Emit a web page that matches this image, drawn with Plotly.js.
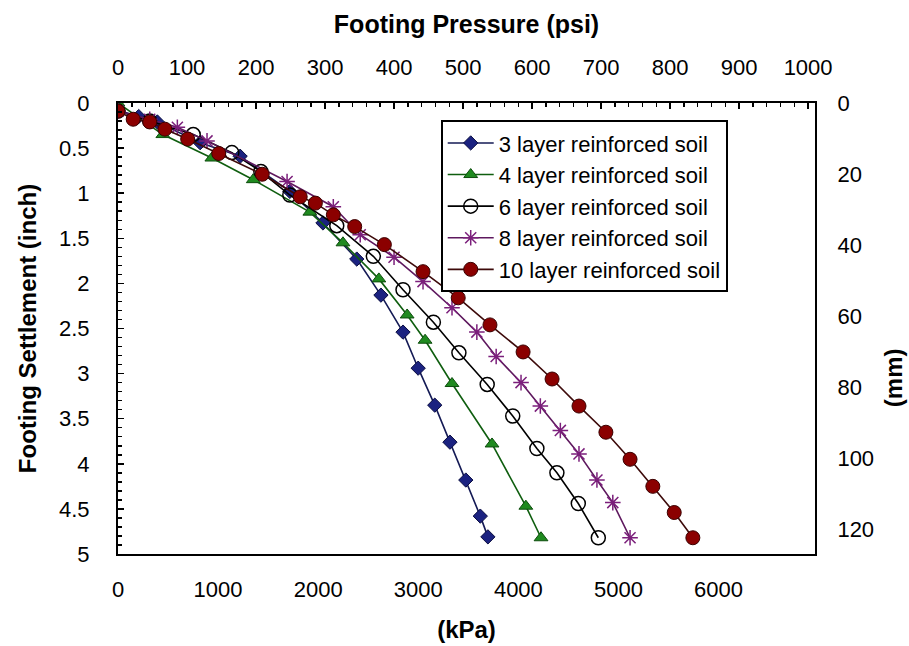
<!DOCTYPE html>
<html>
<head>
<meta charset="utf-8">
<script src="https://cdn.plot.ly/plotly-3.0.1.min.js"></script>
<style>html,body{margin:0;padding:0;background:#fff;}#chart{width:909px;height:646px;}</style>
</head>
<body>
<div id="chart"></div>
<script>
// Footing pressure (psi) and footing settlement (inch)
const seriesNames = ["3 layer reinforced soil","4 layer reinforced soil","6 layer reinforced soil","8 layer reinforced soil","10 layer reinforced soil"];

const psi3 = [0, 30, 57, 119, 177, 249, 297, 346, 381, 413, 435, 459, 481, 504, 525, 536];
const in3  = [0.08, 0.15, 0.21, 0.44, 0.59, 0.98, 1.33, 1.73, 2.13, 2.54, 2.94, 3.35, 3.76, 4.18, 4.58, 4.81];

const psi4 = [0, 65, 136, 196, 278, 326, 378, 419, 445, 484, 542, 591, 613];
const in4  = [0.0, 0.35, 0.61, 0.85, 1.21, 1.55, 1.95, 2.35, 2.63, 3.11, 3.78, 4.47, 4.82];

const psi6 = [0, 46, 109, 165, 207, 249, 317, 370, 413, 457, 494, 535, 572, 607, 636, 667, 696];
const in6  = [0.09, 0.20, 0.35, 0.55, 0.76, 1.02, 1.36, 1.70, 2.07, 2.43, 2.77, 3.12, 3.47, 3.83, 4.10, 4.44, 4.82];

const psi8 = [0, 46, 86, 129, 245, 312, 351, 400, 442, 484, 520, 548, 584, 612, 641, 668, 694, 717, 742];
const in8  = [0.09, 0.18, 0.27, 0.42, 0.87, 1.15, 1.46, 1.71, 1.98, 2.27, 2.54, 2.81, 3.10, 3.36, 3.63, 3.89, 4.18, 4.43, 4.82];

const psi10 = [0, 22, 46, 68, 101, 146, 209, 264, 286, 312, 343, 386, 442, 493, 539, 587, 629, 668, 707, 742, 775, 806, 833];
const in10  = [0.09, 0.18, 0.21, 0.29, 0.40, 0.56, 0.79, 1.04, 1.11, 1.24, 1.37, 1.57, 1.87, 2.16, 2.46, 2.76, 3.06, 3.36, 3.65, 3.95, 4.25, 4.54, 4.82];

const xTopTicks = [0,100,200,300,400,500,600,700,800,900,1000];
const xBotTicks = [0,1000,2000,3000,4000,5000,6000];
const yLeftTicks = [0,0.5,1,1.5,2,2.5,3,3.5,4,4.5,5];
const yRightTicks = [0,20,40,60,80,100,120];

const PSI_TO_KPA = 6.894757;
const IN_TO_MM = 25.4;
const psiMax = 1010;
const inMax = 5;

const FONT = "'Liberation Sans', Arial, Helvetica, sans-serif";

function tr(i, x, y, marker, lineColor) {
  return {
    type: 'scatter', mode: 'lines+markers', name: seriesNames[i],
    x: x, y: y, xaxis: 'x2', yaxis: 'y',
    line: {color: lineColor, width: 1.6},
    marker: marker
  };
}

const data = [
  tr(0, psi3, in3, {symbol: 'diamond', size: 11, color: '#1b2280', line: {color: '#0a0d40', width: 1}}, '#141a55'),
  tr(1, psi4, in4, {symbol: 'triangle-up', size: 12, color: '#1f8a1f', line: {color: '#0d4d0d', width: 1}}, '#0f5e0f'),
  tr(2, psi6, in6, {symbol: 'circle-open', size: 14, color: '#000000', line: {color: '#000000', width: 1.5}}, '#000000'),
  tr(3, psi8, in8, {symbol: 'asterisk-open', size: 13, color: '#7b1f7b', line: {color: '#7b1f7b', width: 1.5}}, '#5e185e'),
  tr(4, psi10, in10, {symbol: 'circle', size: 14, color: '#8b0000', line: {color: '#3a0000', width: 1}}, '#3d0a0a'),
  // empty helper trace so the bottom (kPa) and right (mm) axes are drawn
  {type: 'scatter', mode: 'markers', x: [], y: [], xaxis: 'x', yaxis: 'y2', showlegend: false, hoverinfo: 'skip'}
];

const axisCommon = {
  showline: true, linecolor: '#000', linewidth: 2,
  ticks: 'inside', ticklen: 6, tickwidth: 1.5, tickcolor: '#000',
  showgrid: false, zeroline: false,
  tickfont: {family: FONT, size: 22, color: '#000'}
};

const layout = {
  width: 909, height: 646,
  margin: {l: 118, r: 94, t: 103, b: 92},
  paper_bgcolor: '#fff', plot_bgcolor: '#fff',
  font: {family: FONT, color: '#000'},
  showlegend: true,
  legend: {
    x: 0.463, y: 0.962, xanchor: 'left', yanchor: 'top',
    bgcolor: '#fff', bordercolor: '#000', borderwidth: 2,
    font: {family: FONT, size: 22, color: '#000'},
    tracegroupgap: 0, itemwidth: 46
  },
  xaxis: Object.assign({}, axisCommon, {
    side: 'bottom', anchor: 'y2', range: [0, psiMax * PSI_TO_KPA],
    tickmode: 'array', tickvals: xBotTicks, ticktext: xBotTicks.map(String),
    minor: {dtick: 200, ticks: 'inside', ticklen: 4, tickcolor: '#000', tickwidth: 1.5},
    ticklabelstandoff: 15,
    title: {text: '<b>(kPa)</b>', font: {family: FONT, size: 24}, standoff: 20}
  }),
  xaxis2: Object.assign({}, axisCommon, {
    side: 'top', overlaying: 'x', anchor: 'y', range: [0, psiMax],
    tickmode: 'array', tickvals: xTopTicks, ticktext: xTopTicks.map(String),
    minor: {dtick: 20, ticks: 'inside', ticklen: 4, tickcolor: '#000', tickwidth: 1.5},
    ticklabelstandoff: 17,
    title: {text: '<b>Footing Pressure (psi)</b>', font: {family: FONT, size: 25}, standoff: 14}
  }),
  yaxis: Object.assign({}, axisCommon, {
    side: 'left', anchor: 'x2', range: [inMax, 0],
    tickmode: 'array', tickvals: yLeftTicks, ticktext: yLeftTicks.map(String),
    minor: {dtick: 0.1, ticks: 'inside', ticklen: 4, tickcolor: '#000', tickwidth: 1.5},
    ticklabelstandoff: 22,
    title: {text: '<b>Footing Settlement (inch)</b>', font: {family: FONT, size: 24}, standoff: 16}
  }),
  yaxis2: Object.assign({}, axisCommon, {
    side: 'right', overlaying: 'y', anchor: 'x', range: [inMax * IN_TO_MM, 0],
    tickmode: 'array', tickvals: yRightTicks, ticktext: yRightTicks.map(String),
    minor: {dtick: 4, ticks: 'inside', ticklen: 4, tickcolor: '#000', tickwidth: 1.5},
    ticklabelstandoff: 16
  }),
  annotations: [{
    text: '<b>(mm)</b>', xref: 'paper', yref: 'paper', x: 1.112, y: 0.39,
    xanchor: 'center', yanchor: 'middle', textangle: -90, showarrow: false,
    font: {family: FONT, size: 24, color: '#000'}
  }]
};

Plotly.newPlot('chart', data, layout, {displayModeBar: false, staticPlot: true});
</script>
</body>
</html>
